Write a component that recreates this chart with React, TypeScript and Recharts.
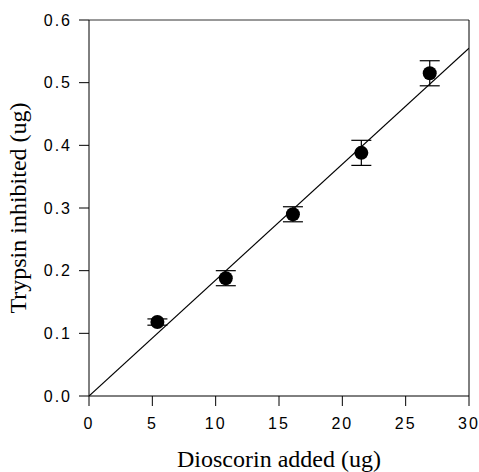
import React from "react";
import {
  ComposedChart,
  Scatter,
  XAxis,
  YAxis,
  ErrorBar,
  ReferenceLine,
} from "recharts";

const dioscorin = [5.4, 10.8, 16.1, 21.5, 26.9];
const inhibited = [0.118, 0.188, 0.29, 0.388, 0.515];
const errors = [0.005, 0.012, 0.012, 0.02, 0.02];

const fitX = [0, 30];
const fitY = [0, 0.555];

const xTicks = [0, 5, 10, 15, 20, 25, 30];
const yTicks = [0, 0.1, 0.2, 0.3, 0.4, 0.5, 0.6];

const points = dioscorin.map((x, i) => ({ x, y: inhibited[i], err: errors[i] }));
const fit = fitX.map((x, i) => ({ x, y: fitY[i] }));

const sans = "Liberation Sans, Arial, sans-serif";
const serif = "Liberation Serif, Times New Roman, serif";

export default function App() {
  return (
    <div style={{ position: "absolute", left: 0, top: 0, background: "#fff" }}>
      <ComposedChart
        width={479}
        height={472}
        margin={{ top: 20, right: 10, bottom: 0, left: 0 }}
      >
        <XAxis
          type="number"
          dataKey="x"
          domain={[0, 30]}
          ticks={xTicks}
          allowDataOverflow
          stroke="#000"
          tickSize={10}
          tickMargin={12}
          height={76}
          tick={{ fill: "#000", fontSize: 16, fontFamily: sans, letterSpacing: 2 }}
          label={{
            value: "Dioscorin added (ug)",
            position: "insideBottom",
            offset: 5,
            fill: "#000",
            fontSize: 24,
            fontFamily: serif,
          }}
        />
        <YAxis
          type="number"
          dataKey="y"
          domain={[0, 0.6]}
          ticks={yTicks}
          allowDataOverflow
          stroke="#000"
          tickSize={10}
          tickMargin={7}
          width={89}
          tickFormatter={(v: number) => v.toFixed(1)}
          tick={{ fill: "#000", fontSize: 16, fontFamily: sans, letterSpacing: 2 }}
          label={{
            value: "Trypsin inhibited (ug)",
            angle: -90,
            position: "insideLeft",
            offset: 17,
            style: { textAnchor: "middle" },
            fill: "#000",
            fontSize: 24,
            fontFamily: serif,
          }}
        />
        <ReferenceLine y={0.6} stroke="#333" strokeWidth={1} />
        <ReferenceLine x={30} stroke="#000" strokeWidth={1} />
        <Scatter
          data={fit}
          line={{ stroke: "#000", strokeWidth: 1.2 }}
          shape={() => null}
          isAnimationActive={false}
        />
        <Scatter
          data={points}
          fill="#000"
          shape={(p: any) => <circle cx={p.cx} cy={p.cy} r={7} fill="#000" />}
          isAnimationActive={false}
        >
          <ErrorBar dataKey="err" direction="y" width={10} stroke="#000" strokeWidth={1.2} />
        </Scatter>
      </ComposedChart>
    </div>
  );
}
